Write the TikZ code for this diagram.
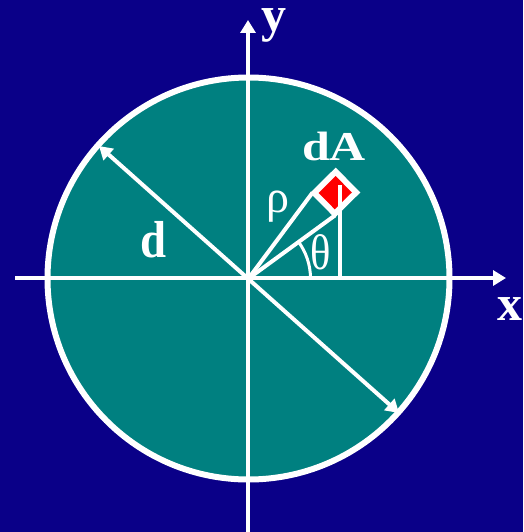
\documentclass[tikz,border=0pt]{standalone}
\usepackage{fontspec}
\setmainfont{Liberation Serif}
\usetikzlibrary{arrows.meta,calc}
\definecolor{bgblue}{RGB}{10,0,136}
\definecolor{tealfill}{RGB}{0,128,128}
\definecolor{elemred}{RGB}{255,0,0}
\begin{document}
\begin{tikzpicture}[x=1pt,y=-1pt,
  tip/.tip={Triangle[width=15pt,length=13pt]},
  axis/.style={draw=white,line width=3.5pt,-tip},
  diam/.style={draw=white,line width=4pt,tip-tip},
  thin/.style={draw=white,line width=3.5pt},
  lbl/.style={text=white,inner sep=0pt,anchor=base},
  big/.style={font=\fontsize{50}{50}\selectfont\bfseries}]
\fill[bgblue] (0,0) rectangle (523,532);
\useasboundingbox (0,0) rectangle (523,532);
\coordinate (O) at (248.5,278.5);
\node[circle,draw=white,line width=6pt,fill=tealfill,minimum size=402pt,inner sep=0pt] (C) at (O) {};
% axes
\coordinate (xs) at (15,278);
\coordinate (xe) at (506,278);
\coordinate (ys) at (248,532);
\coordinate (ye) at (248,20);
\draw[axis] (xs) -- (xe);
\draw[axis] (ys) -- (ye);
% diameter
\coordinate (d1) at (99,146);
\coordinate (d2) at (399,413);
\draw[diam] (d1) -- (d2);
% area element
\begin{scope}[shift={(O)},rotate=44.7]
  \coordinate (wa) at (106,-16);
  \coordinate (wb) at (106,16);
  \draw[thin,line width=4pt] (0,0) -- (wa);
  \draw[thin,line width=4pt] (0,0) -- (wb);
  \fill[white] (104,-17.5) rectangle (140,17.5);
  \fill[elemred] (110,-11.5) rectangle (134,11.5);
\end{scope}
\coordinate (vt) at (340,185);
\coordinate (vb) at (340,278);
\draw[thin] (vt) -- (vb);
\coordinate (as) at ($(O)+(62,0)$);
\draw[white,line width=3pt] (as) arc[start angle=0,end angle=-37,radius=62];
% labels
\node[lbl,big,text height=24pt] (ylab) at (274,32) {y};
\node[lbl,big] (xlab) at (510,320) {x};
\node[lbl,font=\fontsize{52}{52}\selectfont\bfseries,xscale=0.9] (dlab) at (154,257) {d};
\node[lbl,font=\fontsize{41}{41}\selectfont\bfseries,xscale=1.22] (dA) at (334,160) {dA};
\node[lbl,font=\fontsize{46}{46}\selectfont] (rho) at (278,212) {ρ};
\node[lbl,font=\fontsize{50}{50}\selectfont,xscale=0.85] (theta) at (321,269) {θ};
\end{tikzpicture}
\end{document}
